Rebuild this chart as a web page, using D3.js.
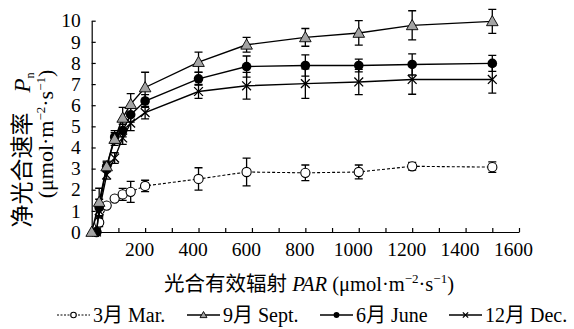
<!DOCTYPE html>
<html>
<head>
<meta charset="utf-8">
<script src="https://cdn.jsdelivr.net/npm/d3@7"></script>
<style>
  body { margin: 0; background: #fff; }
</style>
</head>
<body>
<div id="chart"></div>
<script>
// PAR levels (µmol·m-2·s-1)
const parLevels = [0, 28, 56, 86, 116, 146, 200, 400, 580, 800, 1000, 1200, 1500];
// first PAR point per series (the light-off point)
const parStart = { mar: 18, sept: 0, june: 18, dec: 18 };

// net photosynthetic rate Pn
const pnMar  = [0, 0.45, 1.25, 1.58, 1.78, 1.9, 2.18, 2.51, 2.84, 2.80, 2.84, 3.11, 3.07];
const pnSept = [0, 1.42, 3.10, 4.40, 5.40, 6.05, 6.84, 8.04, 8.86, 9.21, 9.42, 9.78, 9.97];
const pnJune = [0, 1.15, 3.10, 4.50, 4.80, 5.55, 6.20, 7.25, 7.83, 7.88, 7.88, 7.93, 7.98];
const pnDec  = [0, 1.00, 2.70, 3.50, 4.45, 5.15, 5.65, 6.65, 6.92, 7.02, 7.10, 7.22, 7.22];

// standard errors
const seMar  = [0, 0.20, 0.10, 0.10, 0.28, 0.50, 0.27, 0.53, 0.66, 0.37, 0.33, 0.18, 0.25];
const seSept = [0, 0.65, 0.20, 0.30, 0.50, 0.50, 0.72, 0.47, 0.35, 0.42, 0.58, 0.69, 0.57];
const seJune = [0, 0.40, 0.25, 0.30, 0.30, 0.35, 0.30, 0.30, 0.50, 0.50, 0.30, 0.50, 0.38];
const seDec  = [0, 0.30, 0.20, 0.25, 0.30, 0.35, 0.30, 0.33, 0.63, 0.70, 0.60, 0.70, 0.65];

const xTicks = [100, 200, 300, 400, 500, 600, 700, 800, 900, 1000, 1100, 1200, 1300, 1400, 1500, 1600];
const yTicks = [0, 1, 2, 3, 4, 5, 6, 7, 8, 9, 10];

const series = [
  { key: "mar",  label: "3月 Mar.",   vals: pnMar,  se: seMar,  marker: "openCircle", dash: "3,2" },
  { key: "dec",  label: "12月 Dec.",  vals: pnDec,  se: seDec,  marker: "cross",      dash: null },
  { key: "june", label: "6月 June",   vals: pnJune, se: seJune, marker: "dot",        dash: null },
  { key: "sept", label: "9月 Sept.",  vals: pnSept, se: seSept, marker: "triangle",   dash: null }
];
const legendOrder = ["mar", "sept", "june", "dec"];

const FONT = '"Liberation Serif", "Times New Roman", "DejaVu Serif", "Noto Sans CJK SC", serif';
const W = 574, H = 329;
const svg = d3.select("#chart").append("svg").attr("width", W).attr("height", H);

const x = d3.scaleLinear().domain([0, 1600]).range([91.7, 519]);
const y = d3.scaleLinear().domain([0, 10]).range([232, 20.7]);

// axes
svg.append("g")
  .attr("transform", `translate(0,${y(0)})`)
  .call(d3.axisBottom(x).tickValues(xTicks).tickSizeInner(-4).tickSizeOuter(0).tickPadding(10)
    .tickFormat(d => d % 200 === 0 ? d : ""))
  .call(g => g.attr("font-family", null))
  .call(g => g.selectAll("line, path").attr("stroke", "#000").attr("stroke-width", 1.2))
  .call(g => g.selectAll("text").attr("dx", -6).attr("fill", "#000")
    .style("font-family", FONT).style("font-size", "19.5px"));

svg.append("g")
  .attr("transform", `translate(${x(0)},0)`)
  .call(d3.axisLeft(y).tickValues(yTicks).tickSizeInner(-4).tickSizeOuter(0).tickPadding(11))
  .call(g => g.attr("font-family", null))
  .call(g => g.selectAll("line, path").attr("stroke", "#000").attr("stroke-width", 1.2))
  .call(g => g.selectAll("text").attr("fill", "#000")
    .style("font-family", FONT).style("font-size", "19.5px"));

// data points
series.forEach(s => {
  s.points = parLevels.map((p, i) => ({
    par: i === 0 ? parStart[s.key] : p,
    pn: s.vals[i],
    se: s.se[i]
  }));
});

const line = d3.line().x(d => x(d.par)).y(d => y(d.pn));

function drawMarker(g, type, cx, cy, scale) {
  const k = scale || 1;
  if (type === "openCircle") {
    g.append("circle").attr("cx", cx).attr("cy", cy).attr("r", 4.6 * k)
      .attr("fill", "#fff").attr("stroke", "#000").attr("stroke-width", 1.1);
  } else if (type === "dot") {
    g.append("circle").attr("cx", cx).attr("cy", cy).attr("r", 4.8 * k).attr("fill", "#000");
  } else if (type === "triangle") {
    const s = 5.8 * k;
    g.append("path")
      .attr("d", `M${cx},${cy - s}L${cx + s},${cy + s * 0.75}L${cx - s},${cy + s * 0.75}Z`)
      .attr("fill", "#a3a3a3").attr("stroke", "#000").attr("stroke-width", 0.9);
  } else if (type === "cross") {
    const s = 4.4 * k;
    g.append("path")
      .attr("d", `M${cx - s},${cy - s}L${cx + s},${cy + s}M${cx - s},${cy + s}L${cx + s},${cy - s}`)
      .attr("stroke", "#000").attr("stroke-width", 1.3).attr("fill", "none");
  }
}

series.forEach(s => {
  const g = svg.append("g");
  g.append("path").datum(s.points)
    .attr("d", line)
    .attr("fill", "none")
    .attr("stroke", "#000")
    .attr("stroke-width", s.dash ? 1.1 : 1.4)
    .attr("stroke-dasharray", s.dash);

  // error bars
  s.points.filter(d => d.se > 0).forEach(d => {
    const cx = x(d.par), y1 = y(d.pn + d.se), y2 = y(d.pn - d.se);
    g.append("path")
      .attr("d", `M${cx},${y1}L${cx},${y2}M${cx - 4},${y1}L${cx + 4},${y1}M${cx - 4},${y2}L${cx + 4},${y2}`)
      .attr("stroke", "#000").attr("stroke-width", 1.3).attr("fill", "none");
  });

  s.points.forEach(d => drawMarker(g, s.marker, x(d.par), y(d.pn)));
});

// y axis title
const yt1 = svg.append("text")
  .attr("transform", "translate(30,150) rotate(-90)")
  .attr("text-anchor", "middle")
  .style("font-family", FONT).style("font-size", "23px");
yt1.append("tspan").text("净光合速率");
yt1.append("tspan").attr("dx", 20).attr("font-style", "italic").text("P");
yt1.append("tspan").style("font-size", "12px").attr("dy", 4).text("n");

const yt2 = svg.append("text")
  .attr("transform", "translate(53,134) rotate(-90)")
  .attr("text-anchor", "middle")
  .style("font-family", FONT).style("font-size", "22px");
yt2.append("tspan").text("(μmol·m");
yt2.append("tspan").style("font-size", "13px").attr("dy", -8).text("−2");
yt2.append("tspan").attr("dy", 8).text("·s");
yt2.append("tspan").style("font-size", "13px").attr("dy", -8).text("−1");
yt2.append("tspan").attr("dy", 8).text(")");

// x axis title
const xt = svg.append("text")
  .attr("x", 309).attr("y", 291)
  .attr("text-anchor", "middle")
  .style("font-family", FONT).style("font-size", "20.5px");
xt.append("tspan").text("光合有效辐射 ");
xt.append("tspan").attr("font-style", "italic").text("PAR");
xt.append("tspan").text(" (μmol·m");
xt.append("tspan").style("font-size", "13px").attr("dy", -8).text("−2");
xt.append("tspan").attr("dy", 8).text("·s");
xt.append("tspan").style("font-size", "13px").attr("dy", -8).text("−1");
xt.append("tspan").attr("dy", 8).text(")");

// legend
const legX = [57, 187, 320, 449];
const legY = 315;
legendOrder.forEach((key, i) => {
  const s = series.find(d => d.key === key);
  const g = svg.append("g");
  const x0 = legX[i];
  g.append("line")
    .attr("x1", x0).attr("x2", x0 + 33).attr("y1", legY).attr("y2", legY)
    .attr("stroke", "#000").attr("stroke-width", s.dash ? 1 : 1.3)
    .attr("stroke-dasharray", s.dash ? "2,1.5" : null);
  drawMarker(g, s.marker, x0 + 16.5, legY, 0.6);
  g.append("text")
    .attr("x", x0 + 36).attr("y", legY + 6.5)
    .style("font-family", FONT).style("font-size", "20px")
    .text(s.label);
});
</script>
</body>
</html>
